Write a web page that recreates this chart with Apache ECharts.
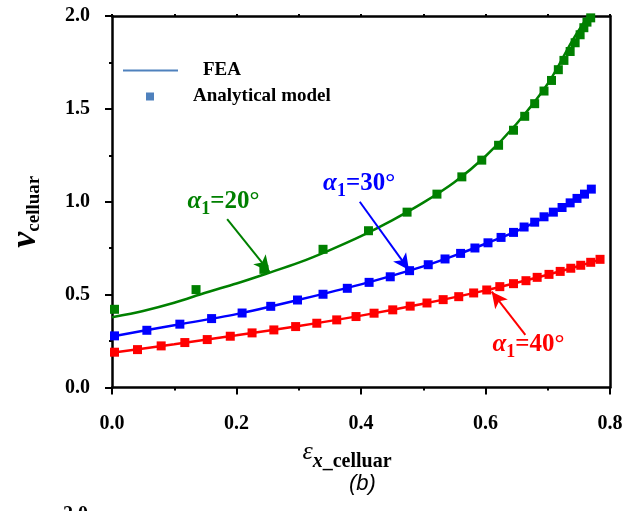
<!DOCTYPE html>
<html>
<head>
<meta charset="utf-8">
<script src="https://cdn.jsdelivr.net/npm/echarts@6/dist/echarts.min.js"></script>
<style>
  html, body { margin: 0; padding: 0; background: #fff; }
  #chart { width: 629px; height: 511px; }
</style>
</head>
<body>
<div id="chart"></div>
<script>
// FEA curves (x, y)
const feaGreenX = [0, 0.05, 0.1, 0.15, 0.2, 0.25, 0.3, 0.35, 0.4, 0.45, 0.5, 0.55, 0.6, 0.65, 0.7, 0.74, 0.765]
const feaGreenY = [0.378, 0.412, 0.456, 0.51, 0.56, 0.615, 0.672, 0.74, 0.815, 0.9, 0.995, 1.105, 1.245, 1.42, 1.635, 1.87, 2.0]
const feaBlueX = [0, 0.1, 0.2, 0.3, 0.4, 0.5, 0.55, 0.6, 0.65, 0.7, 0.75, 0.77]
const feaBlueY = [0.275, 0.335, 0.395, 0.472, 0.555, 0.652, 0.710, 0.774, 0.842, 0.925, 1.023, 1.066]
const feaRedX = [0, 0.1, 0.2, 0.3, 0.4, 0.5, 0.6, 0.7, 0.75, 0.785]
const feaRedY = [0.187, 0.233, 0.281, 0.331, 0.387, 0.451, 0.523, 0.607, 0.654, 0.690]

// analytical model points
const anaGreenX = [0.004, 0.135, 0.244, 0.339, 0.412, 0.474, 0.522, 0.562, 0.594, 0.621, 0.645, 0.663, 0.679, 0.694, 0.706, 0.717, 0.726, 0.736, 0.744, 0.752, 0.758, 0.763, 0.769]
const anaGreenY = [0.421, 0.527, 0.636, 0.744, 0.844, 0.944, 1.041, 1.134, 1.224, 1.304, 1.385, 1.460, 1.528, 1.596, 1.653, 1.711, 1.761, 1.809, 1.856, 1.899, 1.937, 1.967, 1.990]
const anaBlueX = [0.004, 0.056, 0.109, 0.160, 0.209, 0.255, 0.298, 0.339, 0.378, 0.413, 0.447, 0.478, 0.508, 0.535, 0.560, 0.583, 0.604, 0.625, 0.645, 0.662, 0.679, 0.694, 0.709, 0.723, 0.736, 0.747, 0.759, 0.770]
const anaBlueY = [0.278, 0.308, 0.341, 0.371, 0.401, 0.437, 0.471, 0.502, 0.534, 0.566, 0.596, 0.629, 0.661, 0.692, 0.722, 0.751, 0.779, 0.808, 0.835, 0.864, 0.890, 0.919, 0.944, 0.969, 0.994, 1.018, 1.041, 1.068]
const anaRedX = [0.004, 0.041, 0.079, 0.117, 0.153, 0.190, 0.225, 0.260, 0.295, 0.329, 0.361, 0.392, 0.421, 0.451, 0.479, 0.506, 0.532, 0.557, 0.581, 0.602, 0.623, 0.645, 0.665, 0.683, 0.702, 0.720, 0.737, 0.753, 0.769, 0.784]
const anaRedY = [0.190, 0.204, 0.224, 0.242, 0.258, 0.276, 0.294, 0.310, 0.328, 0.346, 0.364, 0.382, 0.400, 0.418, 0.438, 0.455, 0.473, 0.489, 0.509, 0.525, 0.543, 0.559, 0.575, 0.593, 0.609, 0.625, 0.642, 0.658, 0.674, 0.690]

// annotations: label position, arrow start and end (data coords)
const labelTexts = ['20°', '30°', '40°']
const labelPos = [[0.179, 0.988], [0.397, 1.085], [0.669, 0.218]]
const arrowFrom = [[0.185, 0.906], [0.398, 1.000], [0.664, 0.283]]
const arrowTo = [[0.253, 0.623], [0.477, 0.633], [0.610, 0.516]]

const colors = ['#008000', '#0000ff', '#ff0000']
const serif = 'Liberation Serif'

const zip = (xs, ys) => xs.map((x, i) => [x, ys[i]])

function lineSeries(xs, ys, color) {
  return {
    name: 'FEA',
    type: 'line',
    data: zip(xs, ys),
    smooth: 0.3,
    symbol: 'none',
    lineStyle: { color: color, width: 2.5 },
    itemStyle: { color: color },
    z: 2
  }
}

function pointSeries(xs, ys, i) {
  const color = colors[i]
  const sub = {
    a: { fontFamily: serif, fontSize: 25, fontStyle: 'italic', fontWeight: 'bold', color: color, verticalAlign: 'bottom', padding: [0, 0, 4, 0] },
    s: { fontFamily: serif, fontSize: 18, fontWeight: 'bold', color: color, verticalAlign: 'bottom' },
    t: { fontFamily: serif, fontSize: 25, fontWeight: 'bold', color: color, verticalAlign: 'bottom', padding: [0, 0, 4, 0] }
  }
  return {
    name: 'Analytical model',
    type: 'scatter',
    data: zip(xs, ys),
    symbol: 'rect',
    symbolSize: 9,
    itemStyle: { color: color, opacity: 1 },
    z: 3,
    markLine: {
      silent: true,
      animation: false,
      label: { show: false },
      lineStyle: { color: color, width: 2, type: 'solid' },
      symbolSize: [12, 16],
      data: [[
        { coord: arrowFrom[i], symbol: 'none' },
        { coord: arrowTo[i], symbol: 'arrow' }
      ]]
    },
    markPoint: {
      silent: true,
      animation: false,
      symbol: 'circle',
      symbolSize: 1,
      itemStyle: { color: 'rgba(0,0,0,0)' },
      label: {
        show: true,
        position: 'inside',
        formatter: '{a|α}{s|1}{t|=' + labelTexts[i] + '}',
        rich: sub
      },
      data: [{ coord: labelPos[i] }]
    }
  }
}

const chart = echarts.init(document.getElementById('chart'))

const tickFont = { fontFamily: serif, fontSize: 20, fontWeight: 'bold', color: '#000' }
const axisLine = { show: true, onZero: false, lineStyle: { color: '#000', width: 2.5 } }

chart.setOption({
  animation: false,
  backgroundColor: '#fff',
  grid: { left: 110.5, right: 19, top: 16, bottom: 123.5, containLabel: false },
  legend: [{
    data: [{ name: 'FEA', icon: 'rect', itemStyle: { color: '#4f81bd' } }],
    left: 118, top: 56, itemWidth: 55, itemHeight: 2,
    selectedMode: false,
    textStyle: { fontFamily: serif, fontSize: 19, fontWeight: 'bold', color: '#000', padding: [0, 0, 0, 20] }
  }, {
    data: [{ name: 'Analytical model', icon: 'rect', itemStyle: { color: '#4f81bd' } }],
    left: 141, top: 82, itemWidth: 8, itemHeight: 8,
    selectedMode: false,
    textStyle: { fontFamily: serif, fontSize: 19, fontWeight: 'bold', color: '#000', padding: [0, 0, 0, 34] }
  }],
  xAxis: [{
    type: 'value', min: 0, max: 0.8, interval: 0.2, position: 'bottom',
    axisLine: axisLine,
    axisTick: { show: true, length: 7, lineStyle: { color: '#000', width: 2 } },
    minorTick: { show: true, splitNumber: 2, length: 3, lineStyle: { color: '#000', width: 2 } },
    splitLine: { show: false },
    axisLabel: Object.assign({ margin: 26, formatter: v => v.toFixed(1) }, tickFont),
    name: '{e|ε}{x|x}{c|_celluar}{s|}',
    nameLocation: 'middle',
    nameGap: 52,
    nameTextStyle: {
      rich: {
        e: { fontFamily: serif, fontSize: 26, fontStyle: 'italic', color: '#000', verticalAlign: 'bottom', padding: [0, 0, 6, 0] },
        x: { fontFamily: serif, fontSize: 20, fontStyle: 'italic', fontWeight: 'bold', color: '#000', verticalAlign: 'bottom' },
        c: { fontFamily: serif, fontSize: 20, fontWeight: 'bold', color: '#000', verticalAlign: 'bottom' },
        s: { width: 28 }
      }
    }
  }, {
    type: 'value', min: 0, max: 0.8, interval: 0.1, position: 'top',
    axisLine: axisLine,
    axisTick: { show: true, length: 2, lineStyle: { color: '#000', width: 2 } },
    axisLabel: { show: false },
    splitLine: { show: false }
  }],
  yAxis: [{
    type: 'value', min: 0, max: 2, interval: 0.5, position: 'left',
    axisLine: axisLine,
    axisTick: { show: true, length: 7, lineStyle: { color: '#000', width: 2 } },
    minorTick: { show: true, splitNumber: 2, length: 3, lineStyle: { color: '#000', width: 2 } },
    splitLine: { show: false },
    axisLabel: Object.assign({ margin: 22, formatter: v => v.toFixed(1) }, tickFont),
    name: '{n|ν}{c|celluar}{s|}',
    nameLocation: 'middle',
    nameRotate: 90,
    nameGap: 68,
    nameTextStyle: {
      rich: {
        n: { fontFamily: serif, fontSize: 36, fontStyle: 'italic', fontWeight: 'bold', color: '#000', verticalAlign: 'bottom' },
        c: { fontFamily: serif, fontSize: 19, fontWeight: 'bold', color: '#000', verticalAlign: 'bottom' },
        s: { width: 20 }
      }
    }
  }, {
    type: 'value', min: 0, max: 2, interval: 0.5, position: 'right',
    axisLine: axisLine,
    axisTick: { show: false },
    axisLabel: { show: false },
    splitLine: { show: false }
  }],
  graphic: [{
    type: 'text', left: 349, top: 473,
    style: { text: '(b)', fontFamily: 'Liberation Sans', fontSize: 22, fontStyle: 'italic', fill: '#000' }
  }, {
    type: 'text', x: 88, y: 505,
    style: { text: '2.0', fontFamily: serif, fontSize: 20, fontWeight: 'bold', fill: '#000', textAlign: 'right', textVerticalAlign: 'top' }
  }],
  series: [
    lineSeries(feaGreenX, feaGreenY, colors[0]),
    lineSeries(feaBlueX, feaBlueY, colors[1]),
    lineSeries(feaRedX, feaRedY, colors[2]),
    pointSeries(anaGreenX, anaGreenY, 0),
    pointSeries(anaBlueX, anaBlueY, 1),
    pointSeries(anaRedX, anaRedY, 2)
  ]
})
</script>
</body>
</html>
